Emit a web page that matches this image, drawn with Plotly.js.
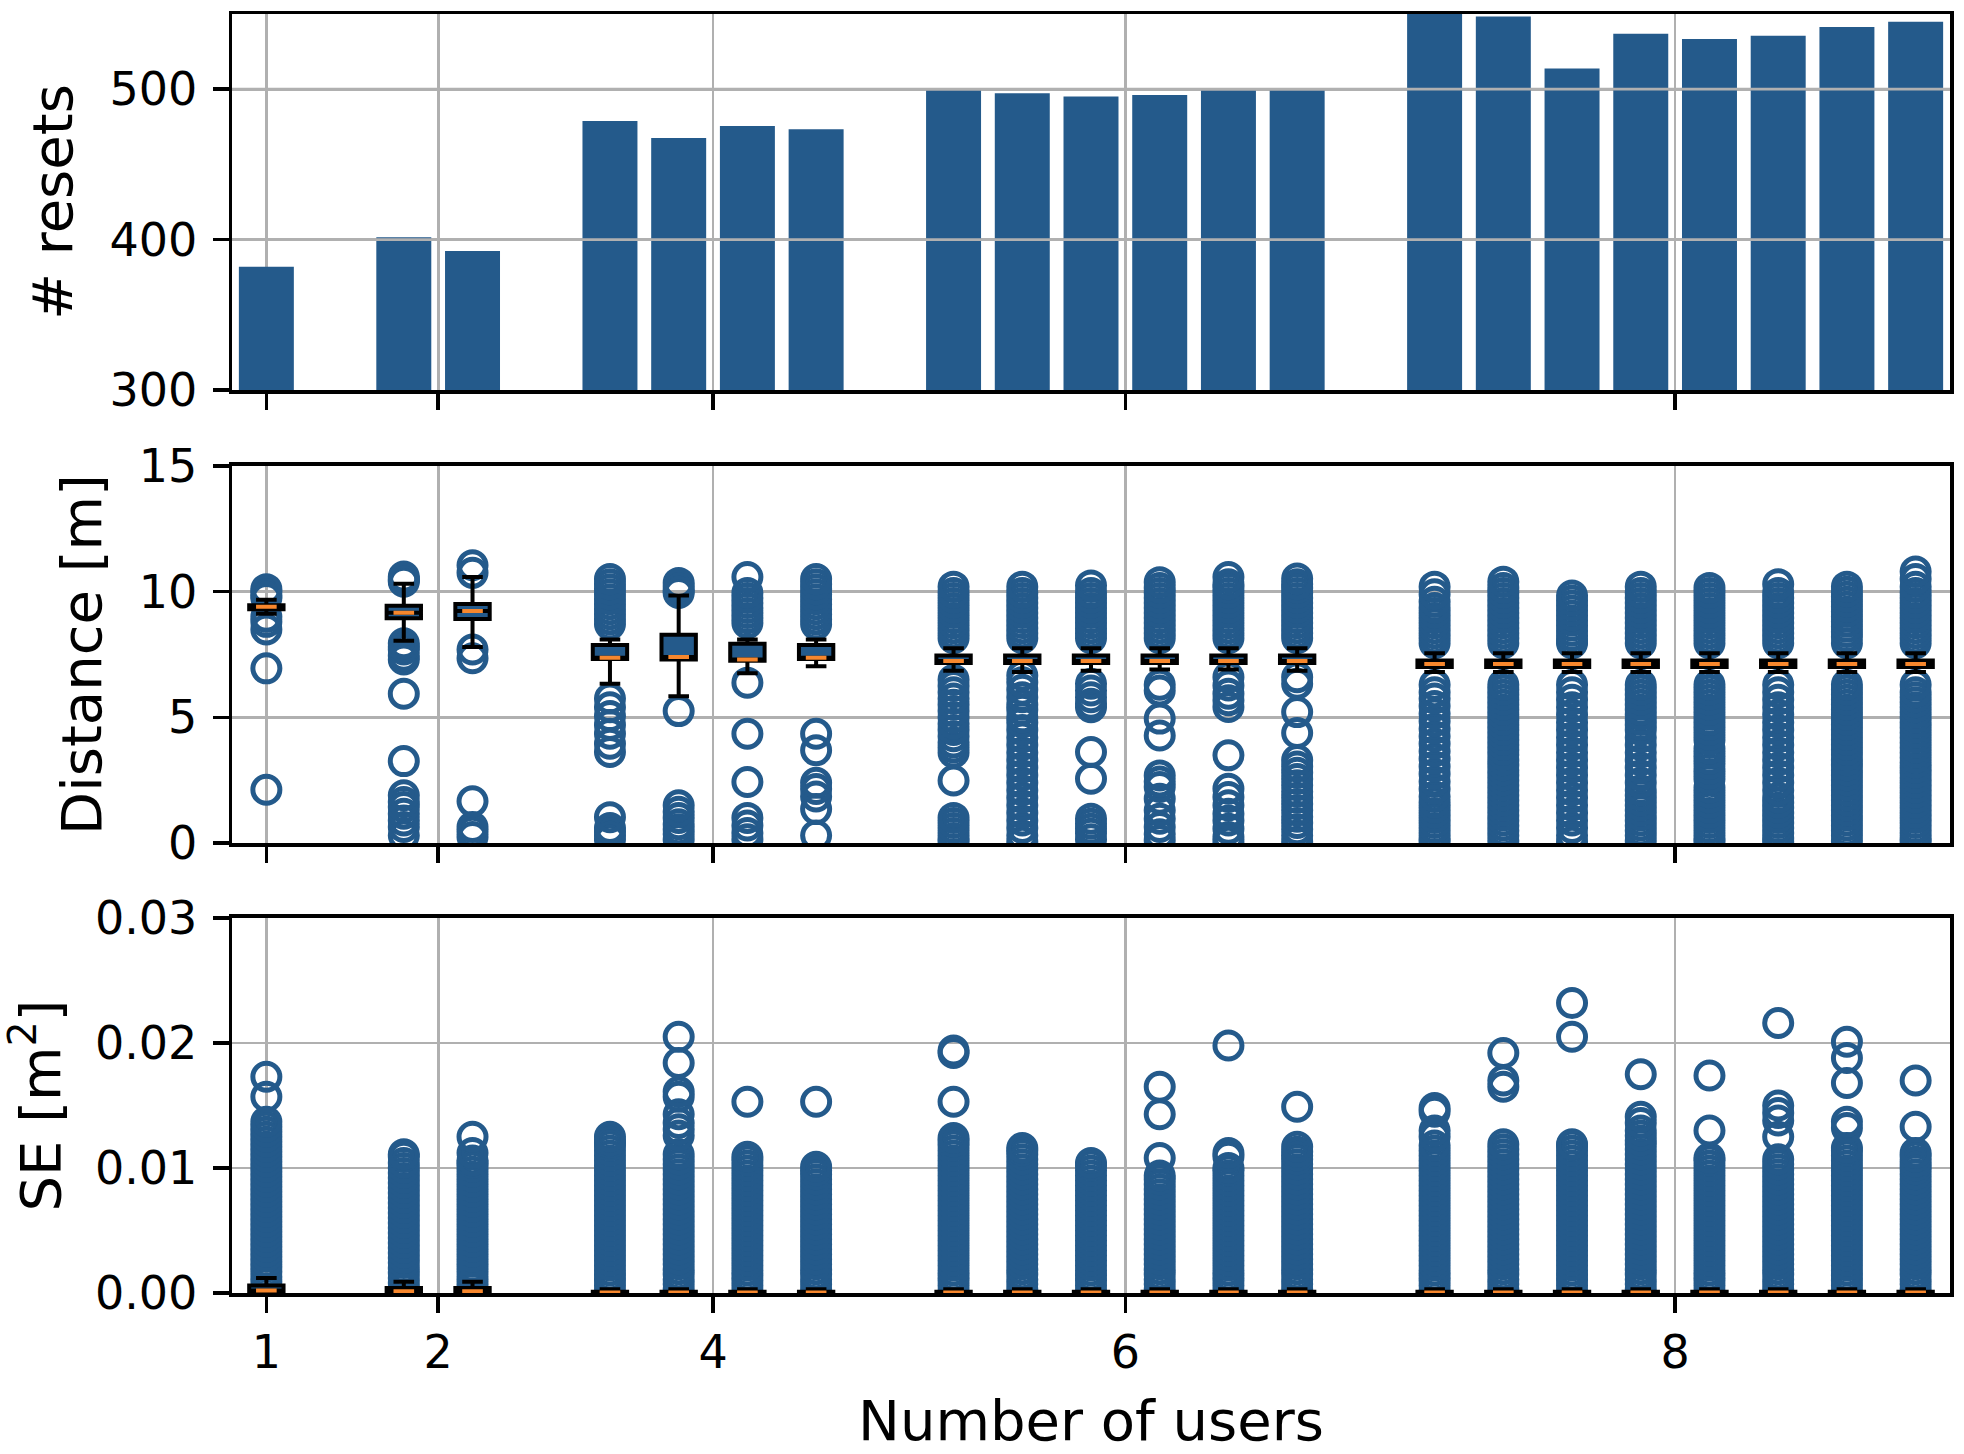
<!DOCTYPE html>
<html>
<head>
<meta charset="utf-8">
<script src="https://cdn.plot.ly/plotly-3.0.1.min.js"></script>
<style>
  body { margin: 0; background: #fff; }
  #chart { width: 1964px; height: 1454px; }
</style>
</head>
<body>
<div id="chart"></div>
<script>
// one bar / box per user, grouped by the number of users in the run
let userGroups = [1, 2, 4, 6, 8];
let groupLabels = ['1', '2', '4', '6', '8'];

// top: number of resets
let resets = [382, 401.5, 392.5, 478.8, 467.6, 475.6, 473.3, 499.1, 497.3, 495.1, 496.2, 499.1, 499.1,
              552, 548.4, 513.8, 536.9, 533.3, 535.6, 541.3, 544.9];
let resetTicks = [300, 400, 500];

// middle: distance [m], box stats
let distQ1  = [9.30, 8.94, 8.91, 7.32, 7.30, 7.25, 7.32, 7.16, 7.16, 7.16, 7.16, 7.16, 7.16, 7.0, 7.0, 7.0, 7.0, 7.0, 7.0, 7.0, 7.0];
let distMed = [9.40, 9.16, 9.23, 7.37, 7.40, 7.30, 7.37, 7.24, 7.24, 7.24, 7.24, 7.24, 7.24, 7.12, 7.12, 7.12, 7.12, 7.12, 7.12, 7.12, 7.12];
let distQ3  = [9.46, 9.44, 9.51, 7.88, 8.29, 7.93, 7.88, 7.46, 7.46, 7.46, 7.46, 7.46, 7.46, 7.26, 7.26, 7.26, 7.26, 7.26, 7.26, 7.26, 7.26];
let distLow = [9.12, 8.05, 7.80, 6.34, 5.84, 6.76, 7.03, 6.85, 6.80, 6.85, 6.90, 6.90, 6.85, 6.8, 6.8, 6.8, 6.8, 6.8, 6.8, 6.8, 6.8];
let distHigh = [9.68, 10.32, 10.58, 8.10, 9.85, 8.10, 8.10, 7.75, 7.75, 7.75, 7.75, 7.75, 7.75, 7.55, 7.55, 7.55, 7.55, 7.55, 7.55, 7.55, 7.55];
let distTicks = [0, 5, 10, 15];

let distOutliers = [
  [10.1, 10.0, 9.85, 9.75, 9.0, 8.8, 8.5, 6.95, 2.12],
  [10.6, 10.5, 10.45, 10.4, 7.95, 7.8, 7.7, 7.45, 7.3, 5.94, 3.26, 1.9, 1.63, 1.43, 1.17, 0.9, 0.64, 0.3],
  [11.05, 10.75, 7.7, 7.35, 1.66, 0.64, 0.45, 0.24],
  [10.5, 10.3, 10.1, 9.9, 9.7, 9.5, 9.3, 9.1, 8.9, 8.7, 5.75, 5.4, 5.05, 4.7, 4.35, 3.95, 3.62, 1.03, 0.6, 0.45, 0.3, 0.15],
  [10.35, 10.2, 10.05, 9.95, 5.25, 1.5, 1.25, 1.0, 0.75, 0.55, 0.35, 0.15],
  [10.58, 9.95, 9.75, 9.55, 9.35, 9.15, 8.95, 8.75, 6.38, 4.35, 2.43, 1.0, 0.7, 0.4, 0.15],
  [10.5, 10.3, 10.1, 9.9, 9.7, 9.5, 9.3, 9.1, 8.9, 8.7, 4.35, 3.69, 2.4, 2.15, 1.85, 1.35, 0.3],
  [10.2, 9.95, 9.75, 9.55, 9.35, 9.15, 8.95, 8.75, 8.55, 8.35, 8.15, 6.5, 6.25, 6.0, 5.75, 5.5, 5.25, 5.0, 4.75, 4.5,
   4.25, 4.0, 3.8, 3.6, 2.49, 1.0, 0.8, 0.6, 0.4, 0.2, 0.05],
  [10.2, 9.95, 9.75, 9.55, 9.35, 9.15, 8.95, 8.75, 8.55, 8.35, 8.15, 6.67, 6.4, 6.1, 5.8, 5.5, 5.3, 5.0, 4.8, 4.5,
   4.2, 3.9, 3.6, 3.3, 3.0, 2.7, 2.4, 2.1, 1.8, 1.5, 1.2, 0.9, 0.6, 0.3, 0.05],
  [10.25, 9.95, 9.75, 9.55, 9.35, 9.15, 8.95, 8.75, 8.55, 8.35, 8.15, 6.34, 6.07, 5.8, 5.54, 5.4, 3.62, 2.56, 0.97, 0.77,
   0.57, 0.37, 0.15],
  [10.38, 10.15, 9.95, 9.75, 9.55, 9.35, 9.15, 8.95, 8.75, 8.55, 8.35, 8.15, 6.3, 6.07, 4.95, 4.28, 2.69, 2.45, 2.23, 1.76,
   1.3, 0.97, 0.64, 0.35, 0.12],
  [10.58, 10.3, 10.15, 9.95, 9.75, 9.55, 9.35, 9.15, 8.95, 8.75, 8.55, 8.35, 8.15, 6.6, 6.27, 5.94, 5.68, 5.41, 3.49, 2.16,
   1.83, 1.5, 1.17, 0.9, 0.57, 0.24, 0.05],
  [10.52, 10.3, 10.15, 9.95, 9.75, 9.55, 9.35, 9.15, 8.95, 8.75, 8.55, 8.35, 8.15, 6.6, 6.34, 5.21, 4.38, 3.3, 3.05, 2.8,
   2.55, 2.3, 2.05, 1.8, 1.55, 1.3, 1.05, 0.8, 0.55, 0.3, 0.05],
  [10.2, 9.9, 9.6, 9.35, 9.15, 8.95, 8.75, 8.55, 8.35, 8.15, 7.95, 6.3, 6.0, 5.75, 5.45, 5.15, 4.85, 4.55, 4.25, 3.95,
   3.65, 3.35, 3.05, 2.75, 2.45, 2.15, 1.85, 1.6, 1.4, 1.2, 1.0, 0.8, 0.6, 0.4, 0.2, 0.05],
  [10.4, 10.15, 9.95, 9.75, 9.55, 9.35, 9.15, 8.95, 8.75, 8.55, 8.35, 8.15, 7.95, 6.3, 6.1, 5.9, 5.7, 5.5, 5.3, 5.1,
   4.9, 4.7, 4.5, 4.3, 4.1, 3.9, 3.7, 3.5, 3.3, 3.1, 2.9, 2.7, 2.5, 2.3, 2.1, 1.9, 1.7, 1.5, 1.3, 1.1,
   0.9, 0.7, 0.5, 0.3, 0.1],
  [9.85, 9.65, 9.45, 9.25, 9.05, 8.85, 8.65, 8.45, 8.25, 8.05, 7.95, 6.3, 6.0, 5.7, 5.4, 5.1, 4.8, 4.5, 4.2, 3.9,
   3.6, 3.3, 3.0, 2.7, 2.4, 2.1, 1.8, 1.5, 1.2, 0.9, 0.6, 0.3, 0.05],
  [10.2, 9.95, 9.75, 9.55, 9.35, 9.15, 8.95, 8.75, 8.55, 8.35, 8.15, 7.95, 6.3, 6.1, 5.9, 5.7, 5.5, 5.3, 5.1, 4.9,
   4.7, 4.5, 4.2, 3.9, 3.6, 3.3, 3.0, 2.7, 2.4, 2.1, 1.9, 1.7, 1.5, 1.3, 1.1, 0.9, 0.7, 0.5, 0.3, 0.1],
  [10.15, 9.95, 9.75, 9.55, 9.35, 9.15, 8.95, 8.75, 8.55, 8.35, 8.15, 7.95, 6.3, 6.1, 5.9, 5.7, 5.5, 5.3, 5.1, 4.9,
   4.7, 4.5, 4.3, 4.1, 3.75, 3.55, 3.35, 3.15, 2.95, 2.75, 2.55, 2.2, 2.0, 1.8, 1.6, 1.4, 1.2, 1.0, 0.8, 0.6,
   0.4, 0.2, 0.05],
  [10.3, 9.95, 9.75, 9.55, 9.35, 9.15, 8.95, 8.75, 8.55, 8.35, 8.15, 7.95, 6.3, 6.0, 5.7, 5.4, 5.1, 4.8, 4.5, 4.2,
   3.9, 3.6, 3.3, 3.0, 2.7, 2.4, 2.1, 1.8, 1.6, 1.4, 1.2, 1.0, 0.8, 0.6, 0.4, 0.2, 0.05],
  [10.2, 10.0, 9.8, 9.6, 9.4, 9.2, 9.0, 8.8, 8.6, 8.4, 8.2, 7.95, 6.3, 6.1, 5.9, 5.7, 5.5, 5.3, 5.1, 4.9,
   4.7, 4.5, 4.3, 4.1, 3.9, 3.7, 3.5, 3.3, 3.1, 2.9, 2.7, 2.5, 2.3, 2.1, 1.9, 1.7, 1.5, 1.3, 1.1, 0.9,
   0.7, 0.5, 0.3, 0.1],
  [10.8, 10.5, 10.2, 9.95, 9.75, 9.55, 9.35, 9.15, 8.95, 8.75, 8.55, 8.35, 8.15, 7.95, 6.3, 6.0, 5.8, 5.6, 5.4, 5.2,
   5.0, 4.8, 4.6, 4.4, 4.2, 4.0, 3.8, 3.6, 3.4, 3.2, 3.0, 2.8, 2.6, 2.4, 2.2, 2.0, 1.8, 1.6, 1.4, 1.2,
   1.0, 0.8, 0.6, 0.4, 0.2, 0.05]
];

// bottom: squared error [m^2], box stats
let seQ1  = [0.0001, 0.00005, 0.00005, 0, 0, 0, 0, 0, 0, 0, 0, 0, 0, 0, 0, 0, 0, 0, 0, 0, 0];
let seMed = [0.0002, 0.00015, 0.00015, 0.00005, 0.00005, 0.00005, 0.00005, 0.00005, 0.00005, 0.00005, 0.00005,
             0.00005, 0.00005, 0.00005, 0.00005, 0.00005, 0.00005, 0.00005, 0.00005, 0.00005, 0.00005];
let seQ3  = [0.0006, 0.0004, 0.0004, 0.0001, 0.0001, 0.0001, 0.0001, 0.0001, 0.0001, 0.0001, 0.0001,
             0.0001, 0.0001, 0.0001, 0.0001, 0.0001, 0.0001, 0.0001, 0.0001, 0.0001, 0.0001];
let seLow = [0, 0, 0, 0, 0, 0, 0, 0, 0, 0, 0, 0, 0, 0, 0, 0, 0, 0, 0, 0, 0];
let seHigh = [0.0012, 0.0009, 0.0009, 0.0003, 0.0003, 0.0003, 0.0003, 0.0003, 0.0003, 0.0003, 0.0003,
              0.0003, 0.0003, 0.0003, 0.0003, 0.0003, 0.0003, 0.0003, 0.0003, 0.0003, 0.0003];
let seTicks = [0, 0.01, 0.02, 0.03];

let seOutliers = [
  [0.0009, 0.0013, 0.0017, 0.0021, 0.0025, 0.0029, 0.0033, 0.0037, 0.0041, 0.0045, 0.0049, 0.0053, 0.0057, 0.0061,
   0.0065, 0.0069, 0.0073, 0.0077, 0.0081, 0.0085, 0.0089, 0.0093, 0.0097, 0.0101, 0.0105, 0.0109, 0.0113, 0.0117,
   0.0121, 0.0125, 0.0129, 0.0133, 0.0137, 0.0157, 0.0173],
  [0.0004, 0.0008, 0.0012, 0.0016, 0.002, 0.0024, 0.0028, 0.0032, 0.0036, 0.004, 0.0044, 0.0048, 0.0052, 0.0056,
   0.006, 0.0064, 0.0068, 0.0072, 0.0076, 0.008, 0.0084, 0.0088, 0.0092, 0.0096, 0.01, 0.0104, 0.0109, 0.0111],
  [0.0005, 0.0009, 0.0013, 0.0017, 0.0021, 0.0025, 0.0029, 0.0033, 0.0037, 0.0041, 0.0045, 0.0049, 0.0053, 0.0057,
   0.0061, 0.0065, 0.0069, 0.0073, 0.0077, 0.0081, 0.0085, 0.0089, 0.0093, 0.0097, 0.0101, 0.0104, 0.0106, 0.0112,
   0.0125],
  [0.0002, 0.0006, 0.001, 0.0014, 0.0018, 0.0022, 0.0026, 0.003, 0.0034, 0.0038, 0.0042, 0.0046, 0.005, 0.0054,
   0.0058, 0.0062, 0.0066, 0.007, 0.0074, 0.0078, 0.0082, 0.0086, 0.009, 0.0094, 0.0098, 0.0102, 0.0106, 0.011,
   0.0114, 0.0118, 0.012, 0.0122, 0.0125],
  [0.0003, 0.0007, 0.0011, 0.0015, 0.0019, 0.0023, 0.0027, 0.0031, 0.0035, 0.0039, 0.0043, 0.0047, 0.0051, 0.0055,
   0.0059, 0.0063, 0.0067, 0.0071, 0.0075, 0.0079, 0.0083, 0.0087, 0.0091, 0.0095, 0.0099, 0.0103, 0.0107, 0.0111,
   0.0126, 0.0131, 0.0136, 0.0143, 0.0157, 0.0161, 0.0184, 0.0205],
  [0.0002, 0.0006, 0.001, 0.0014, 0.0018, 0.0022, 0.0026, 0.003, 0.0034, 0.0038, 0.0042, 0.0046, 0.005, 0.0054,
   0.0058, 0.0062, 0.0066, 0.007, 0.0074, 0.0078, 0.0082, 0.0086, 0.009, 0.0094, 0.0098, 0.0102, 0.0106, 0.0109,
   0.0153],
  [0.0003, 0.0007, 0.0011, 0.0015, 0.0019, 0.0023, 0.0027, 0.0031, 0.0035, 0.0039, 0.0043, 0.0047, 0.0051, 0.0055,
   0.0059, 0.0063, 0.0067, 0.0071, 0.0075, 0.0079, 0.0083, 0.0087, 0.0091, 0.0095, 0.0098, 0.0101, 0.0153],
  [0.0002, 0.0006, 0.001, 0.0014, 0.0018, 0.0022, 0.0026, 0.003, 0.0034, 0.0038, 0.0042, 0.0046, 0.005, 0.0054,
   0.0058, 0.0062, 0.0066, 0.007, 0.0074, 0.0078, 0.0082, 0.0086, 0.009, 0.0094, 0.0098, 0.0102, 0.0106, 0.011,
   0.0114, 0.0118, 0.0121, 0.0124, 0.0153, 0.0192, 0.0194],
  [0.0003, 0.0007, 0.0011, 0.0015, 0.0019, 0.0023, 0.0027, 0.0031, 0.0035, 0.0039, 0.0043, 0.0047, 0.0051, 0.0055,
   0.0059, 0.0063, 0.0067, 0.0071, 0.0075, 0.0079, 0.0083, 0.0087, 0.0091, 0.0095, 0.0099, 0.0103, 0.0107, 0.0111,
   0.0114, 0.0116],
  [0.0002, 0.0006, 0.001, 0.0014, 0.0018, 0.0022, 0.0026, 0.003, 0.0034, 0.0038, 0.0042, 0.0046, 0.005, 0.0054,
   0.0058, 0.0062, 0.0066, 0.007, 0.0074, 0.0078, 0.0082, 0.0086, 0.009, 0.0094, 0.0098, 0.0102, 0.0104],
  [0.0003, 0.0007, 0.0011, 0.0015, 0.0019, 0.0023, 0.0027, 0.0031, 0.0035, 0.0039, 0.0043, 0.0047, 0.0051, 0.0055,
   0.0059, 0.0063, 0.0067, 0.0071, 0.0075, 0.0079, 0.0083, 0.0087, 0.0091, 0.0094, 0.0108, 0.0143, 0.0165],
  [0.0002, 0.0006, 0.001, 0.0014, 0.0018, 0.0022, 0.0026, 0.003, 0.0034, 0.0038, 0.0042, 0.0046, 0.005, 0.0054,
   0.0058, 0.0062, 0.0066, 0.007, 0.0074, 0.0078, 0.0082, 0.0086, 0.009, 0.0094, 0.0098, 0.01, 0.0109, 0.0112, 0.0198],
  [0.0003, 0.0007, 0.0011, 0.0015, 0.0019, 0.0023, 0.0027, 0.0031, 0.0035, 0.0039, 0.0043, 0.0047, 0.0051, 0.0055,
   0.0059, 0.0063, 0.0067, 0.0071, 0.0075, 0.0079, 0.0083, 0.0087, 0.0091, 0.0095, 0.0099, 0.0103, 0.0107, 0.011,
   0.0113, 0.0117, 0.0149],
  [0.0002, 0.0006, 0.001, 0.0014, 0.0018, 0.0022, 0.0026, 0.003, 0.0034, 0.0038, 0.0042, 0.0046, 0.005, 0.0054,
   0.0058, 0.0062, 0.0066, 0.007, 0.0074, 0.0078, 0.0082, 0.0086, 0.009, 0.0094, 0.0098, 0.0102, 0.0106, 0.011,
   0.0114, 0.0118, 0.0125, 0.013, 0.0145, 0.0148],
  [0.0003, 0.0007, 0.0011, 0.0015, 0.0019, 0.0023, 0.0027, 0.0031, 0.0035, 0.0039, 0.0043, 0.0047, 0.0051, 0.0055,
   0.0059, 0.0063, 0.0067, 0.0071, 0.0075, 0.0079, 0.0083, 0.0087, 0.0091, 0.0095, 0.0099, 0.0103, 0.0107, 0.0111,
   0.0115, 0.0119, 0.0165, 0.017, 0.0192],
  [0.0002, 0.0006, 0.001, 0.0014, 0.0018, 0.0022, 0.0026, 0.003, 0.0034, 0.0038, 0.0042, 0.0046, 0.005, 0.0054,
   0.0058, 0.0062, 0.0066, 0.007, 0.0074, 0.0078, 0.0082, 0.0086, 0.009, 0.0094, 0.0098, 0.0102, 0.0106, 0.011,
   0.0114, 0.0118, 0.0119, 0.0205, 0.0232],
  [0.0003, 0.0007, 0.0011, 0.0015, 0.0019, 0.0023, 0.0027, 0.0031, 0.0035, 0.0039, 0.0043, 0.0047, 0.0051, 0.0055,
   0.0059, 0.0063, 0.0067, 0.0071, 0.0075, 0.0079, 0.0083, 0.0087, 0.0091, 0.0095, 0.0099, 0.0103, 0.0107, 0.0111,
   0.0115, 0.0119, 0.0122, 0.0126, 0.013, 0.0136, 0.0141, 0.0175],
  [0.0002, 0.0006, 0.001, 0.0014, 0.0018, 0.0022, 0.0026, 0.003, 0.0034, 0.0038, 0.0042, 0.0046, 0.005, 0.0054,
   0.0058, 0.0062, 0.0066, 0.007, 0.0074, 0.0078, 0.0082, 0.0086, 0.009, 0.0094, 0.0098, 0.0102, 0.0106, 0.0108,
   0.013, 0.0174],
  [0.0003, 0.0007, 0.0011, 0.0015, 0.0019, 0.0023, 0.0027, 0.0031, 0.0035, 0.0039, 0.0043, 0.0047, 0.0051, 0.0055,
   0.0059, 0.0063, 0.0067, 0.0071, 0.0075, 0.0079, 0.0083, 0.0087, 0.0091, 0.0095, 0.0099, 0.0103, 0.0107, 0.0125,
   0.0138, 0.0144, 0.015, 0.0216],
  [0.0002, 0.0006, 0.001, 0.0014, 0.0018, 0.0022, 0.0026, 0.003, 0.0034, 0.0038, 0.0042, 0.0046, 0.005, 0.0054,
   0.0058, 0.0062, 0.0066, 0.007, 0.0074, 0.0078, 0.0082, 0.0086, 0.009, 0.0094, 0.0098, 0.0102, 0.0106, 0.011,
   0.0114, 0.0116, 0.0132, 0.0137, 0.0168, 0.0188, 0.0201],
  [0.0003, 0.0007, 0.0011, 0.0015, 0.0019, 0.0023, 0.0027, 0.0031, 0.0035, 0.0039, 0.0043, 0.0047, 0.0051, 0.0055,
   0.0059, 0.0063, 0.0067, 0.0071, 0.0075, 0.0079, 0.0083, 0.0087, 0.0091, 0.0095, 0.0099, 0.0102, 0.0105, 0.0109,
   0.0112, 0.0133, 0.017]
];

let blue = '#245a8b';
let orange = '#f7872d';
let grid = '#b0b0b0';
let font = 'DejaVu Sans, Liberation Sans, sans-serif';

// slot positions: users side by side, one empty slot between groups
let slots = [];
let tickPos = [];
let s = 0;
userGroups.forEach(n => {
  let first = s;
  for (let k = 0; k < n; k++) slots.push(s++);
  tickPos.push((first + s - 1) / 2);
  s++;
});

function flatten(outliers) {
  let xs = [], ys = [];
  outliers.forEach((vals, i) => vals.forEach(v => { xs.push(slots[i]); ys.push(v); }));
  return [xs, ys];
}

// fliers go in a box trace with a hidden box so the real boxes are drawn over them
function flierTrace(outliers, ax) {
  let f = flatten(outliers);
  return {
    type: 'box', x: f[0], y: f[1], xaxis: 'x' + ax, yaxis: 'y' + ax,
    boxpoints: 'all', jitter: 0, pointpos: 0, width: 0.5,
    fillcolor: 'rgba(0,0,0,0)', line: {width: 0, color: 'rgba(0,0,0,0)'},
    marker: {symbol: 'circle-open', size: 27, color: blue, line: {width: 5, color: blue}}
  };
}

function boxTrace(q1, med, q3, lo, hi, ax) {
  return {
    type: 'box', orientation: 'v', x: slots, q1: q1, median: med, q3: q3, lowerfence: lo, upperfence: hi,
    xaxis: 'x' + ax, yaxis: 'y' + ax, boxpoints: false, width: 0.5, whiskerwidth: 0.6,
    fillcolor: blue, line: {color: 'black', width: 4}
  };
}

function medianTrace(med, ax) {
  return {
    type: 'box', orientation: 'v', x: slots, q1: med, median: med, q3: med, lowerfence: med, upperfence: med,
    xaxis: 'x' + ax, yaxis: 'y' + ax, boxpoints: false, width: 0.3, whiskerwidth: 0,
    fillcolor: orange, line: {color: orange, width: 4}
  };
}

let data = [
  {type: 'bar', x: slots, y: resets, width: 0.8, marker: {color: blue}, xaxis: 'x', yaxis: 'y'},
  flierTrace(distOutliers, 2),
  boxTrace(distQ1, distMed, distQ3, distLow, distHigh, 2),
  medianTrace(distMed, 2),
  flierTrace(seOutliers, 3),
  boxTrace(seQ1, seMed, seQ3, seLow, seHigh, 3),
  medianTrace(seMed, 3)
];

let tickFont = {family: font, size: 46, color: 'black'};
let titleFont = {family: font, size: 56, color: 'black'};

function xAxis(anchor, labels) {
  return {
    anchor: anchor, range: [-0.5, 24.5], tickmode: 'array', tickvals: tickPos, ticktext: groupLabels,
    showticklabels: labels, ticks: 'outside', ticklen: 16, tickwidth: 3.5, tickcolor: 'black',
    showline: true, linecolor: 'black', linewidth: 3.5, mirror: true,
    showgrid: true, gridcolor: grid, gridwidth: 2.7, zeroline: false, tickfont: tickFont
  };
}

function yAxis(anchor, domain, range, ticks, title) {
  return {
    anchor: anchor, domain: domain, range: range, tickmode: 'array', tickvals: ticks,
    ticks: 'outside', ticklen: 16, tickwidth: 3.5, tickcolor: 'black', ticklabelstandoff: 6,
    showline: true, linecolor: 'black', linewidth: 3.5, mirror: true,
    showgrid: true, gridcolor: grid, gridwidth: 2.7, zeroline: false, tickfont: tickFont,
    title: {text: title, font: titleFont, standoff: 20}
  };
}

let layout = {
  width: 1964, height: 1454,
  margin: {l: 232, r: 14, t: 14, b: 161},
  paper_bgcolor: 'white', plot_bgcolor: 'white',
  showlegend: false, hovermode: false, boxmode: 'overlay',
  font: {family: font, color: 'black'},
  xaxis: xAxis('y', false),
  xaxis2: xAxis('y2', false),
  xaxis3: Object.assign(xAxis('y3', true), {title: {text: 'Number of users', font: titleFont, standoff: 24}}),
  yaxis: yAxis('x', [0.706, 1], [300, 550], resetTicks, '# resets'),
  yaxis2: yAxis('x2', [0.3518, 0.6466], [0, 15], distTicks, 'Distance [m]'),
  yaxis3: Object.assign(yAxis('x3', [0, 0.2932], [0, 0.03], seTicks, 'SE [m<sup>2</sup>]'), {tickformat: '.2f'}),
  // matplotlib draws the grid over the bars in the top panel
  shapes: resetTicks.slice(1).map(v => ({
    type: 'line', xref: 'x domain', yref: 'y', x0: 0, x1: 1, y0: v, y1: v,
    layer: 'above', line: {color: grid, width: 2.7}
  }))
};

Plotly.newPlot('chart', data, layout, {staticPlot: true});
</script>
</body>
</html>
